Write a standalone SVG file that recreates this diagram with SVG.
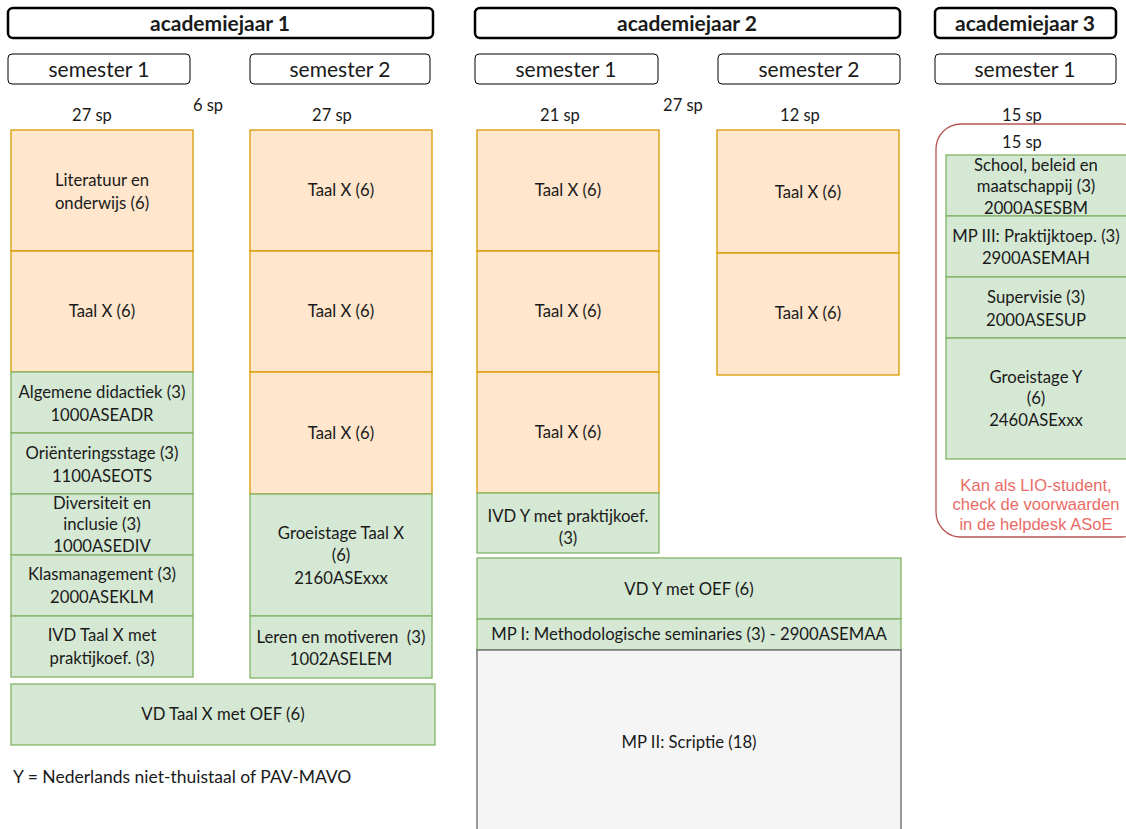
<svg xmlns="http://www.w3.org/2000/svg" width="1126" height="829" viewBox="0 0 1126 829">
<style>
text{font-family:Lato,"Open Sans","Liberation Sans",sans-serif;fill:#1a1a1a;text-anchor:middle}
.t{font-size:16.7px}
.h{font-size:21px;font-weight:bold}
.s{font-size:21px}
.sp{font-size:16.5px}
.yr{fill:#fff;stroke:#000;stroke-width:2.5}
.sem{fill:#fff;stroke:#000;stroke-width:1}
.o{fill:#ffe6cc;stroke:#d79b00;stroke-width:1.3}
.g{fill:#d5e8d4;stroke:#82b366;stroke-width:1.3}
.gr{fill:#f5f5f5;stroke:#666;stroke-width:1.3}
.red{font-family:"Liberation Sans",Arial,sans-serif;font-size:16.6px;fill:#ea6b66}
</style>
<rect width="1126" height="829" fill="#fff"/>
<g id="headers">
<g id="jaar1"><rect class="yr" x="8" y="8" width="425" height="30" rx="5"/><text class="h" x="220" y="31">academiejaar 1</text></g>
<g id="jaar2"><rect class="yr" x="475" y="8" width="425" height="30" rx="5"/><text class="h" x="687" y="31">academiejaar 2</text></g>
<g id="jaar3"><rect class="yr" x="935" y="8" width="181" height="30" rx="5"/><text class="h" x="1025" y="31">academiejaar 3</text></g>
<g id="j1s1"><rect class="sem" x="8" y="54" width="182" height="30" rx="4"/><text class="s" x="99" y="77">semester 1</text></g>
<g id="j1s2"><rect class="sem" x="250" y="54" width="180" height="30" rx="4"/><text class="s" x="340" y="77">semester 2</text></g>
<g id="j2s1"><rect class="sem" x="475" y="54" width="183" height="30" rx="4"/><text class="s" x="566" y="77">semester 1</text></g>
<g id="j2s2"><rect class="sem" x="718" y="54" width="182" height="30" rx="4"/><text class="s" x="809" y="77">semester 2</text></g>
<g id="j3s1"><rect class="sem" x="935" y="54" width="181" height="30" rx="4"/><text class="s" x="1025" y="77">semester 1</text></g>
</g>
<g id="sp">
<text class="sp" x="92" y="121">27 sp</text>
<text class="sp" x="208" y="111">6 sp</text>
<text class="sp" x="332" y="121">27 sp</text>
<text class="sp" x="560" y="121">21 sp</text>
<text class="sp" x="683" y="111">27 sp</text>
<text class="sp" x="800" y="121">12 sp</text>
<text class="sp" x="1022" y="121">15 sp</text>
</g>
<g id="connectors"></g>
<g id="j1s1-vakken">
<g id="lit"><rect class="o" x="11" y="130" width="182" height="121"/><text class="t" x="102" y="186">Literatuur en</text><text class="t" x="102" y="209">onderwijs (6)</text></g>
<g id="taal1"><rect class="o" x="11" y="251" width="182" height="121"/><text class="t" x="102" y="317">Taal X (6)</text></g>
<g id="algdid"><rect class="g" x="11" y="372" width="182" height="61"/><text class="t" x="102" y="398">Algemene didactiek (3)</text><text class="t" x="102" y="421">1000ASEADR</text></g>
<g id="orient"><rect class="g" x="11" y="433" width="182" height="61"/><text class="t" x="102" y="459">Oriënteringsstage (3)</text><text class="t" x="102" y="482">1100ASEOTS</text></g>
<g id="divers"><rect class="g" x="11" y="494" width="182" height="61"/><text class="t" x="102" y="509">Diversiteit en</text><text class="t" x="102" y="530">inclusie (3)</text><text class="t" x="102" y="552">1000ASEDIV</text></g>
<g id="klas"><rect class="g" x="11" y="555" width="182" height="61"/><text class="t" x="102" y="580">Klasmanagement (3)</text><text class="t" x="102" y="603">2000ASEKLM</text></g>
<g id="ivd1"><rect class="g" x="11" y="616" width="182" height="61"/><text class="t" x="102" y="641">IVD Taal X met</text><text class="t" x="102" y="664">praktijkoef. (3)</text></g>
<g id="vd1"><rect class="g" x="11" y="684" width="424" height="61"/><text class="t" x="223" y="720">VD Taal X met OEF (6)</text></g>
</g>
<g id="j1s2-vakken">
<g id="taal2a"><rect class="o" x="250" y="130" width="182" height="121"/><text class="t" x="341" y="196">Taal X (6)</text></g>
<g id="taal2b"><rect class="o" x="250" y="251" width="182" height="121"/><text class="t" x="341" y="317">Taal X (6)</text></g>
<g id="taal2c"><rect class="o" x="250" y="372" width="182" height="122"/><text class="t" x="341" y="439">Taal X (6)</text></g>
<g id="groei1"><rect class="g" x="250" y="494" width="182" height="122"/><text class="t" x="341" y="539">Groeistage Taal X</text><text class="t" x="341" y="561">(6)</text><text class="t" x="341" y="584">2160ASExxx</text></g>
<g id="leren"><rect class="g" x="250" y="616" width="182" height="62"/><text class="t" x="341" y="643" xml:space="preserve">Leren en motiveren  (3)</text><text class="t" x="341" y="665">1002ASELEM</text></g>
</g>
<g id="j2s1-vakken">
<g id="taal3a"><rect class="o" x="477" y="130" width="182" height="121"/><text class="t" x="568" y="196">Taal X (6)</text></g>
<g id="taal3b"><rect class="o" x="477" y="251" width="182" height="121"/><text class="t" x="568" y="317">Taal X (6)</text></g>
<g id="taal3c"><rect class="o" x="477" y="372" width="182" height="121"/><text class="t" x="568" y="438">Taal X (6)</text></g>
<g id="ivd2"><rect class="g" x="477" y="493" width="182" height="60"/><text class="t" x="568" y="522">IVD Y met praktijkoef.</text><text class="t" x="568" y="544">(3)</text></g>
<g id="vd2"><rect class="g" x="477" y="558" width="424" height="61"/><text class="t" x="689" y="595">VD Y met OEF (6)</text></g>
<g id="mp1"><rect class="g" x="477" y="619" width="424" height="31"/><text class="t" x="689" y="640">MP I: Methodologische seminaries (3) - 2900ASEMAA</text></g>
<g id="mp2"><rect class="gr" x="477" y="650" width="424" height="190"/><text class="t" x="689" y="748">MP II: Scriptie (18)</text></g>
</g>
<g id="j2s2-vakken">
<g id="taal4a"><rect class="o" x="717" y="130" width="182" height="123"/><text class="t" x="808" y="198">Taal X (6)</text></g>
<g id="taal4b"><rect class="o" x="717" y="253" width="182" height="122"/><text class="t" x="808" y="319">Taal X (6)</text></g>
</g>
<g id="j3s1-vakken">
<rect x="936" y="124" width="210" height="413" rx="25" fill="none" stroke="#b85450" stroke-width="1.3"/>
<text class="sp" x="1022" y="148">15 sp</text>
<g id="sbm"><rect class="g" x="946" y="155" width="200" height="61"/><text class="t" x="1036" y="171">School, beleid en</text><text class="t" x="1036" y="192">maatschappij (3)</text><text class="t" x="1036" y="214">2000ASESBM</text></g>
<g id="mp3"><rect class="g" x="946" y="216" width="200" height="61"/><text class="t" x="1036" y="242">MP III: Praktijktoep. (3)</text><text class="t" x="1036" y="264">2900ASEMAH</text></g>
<g id="sup"><rect class="g" x="946" y="277" width="200" height="61"/><text class="t" x="1036" y="303">Supervisie (3)</text><text class="t" x="1036" y="326">2000ASESUP</text></g>
<g id="groei2"><rect class="g" x="946" y="338" width="200" height="121"/><text class="t" x="1036" y="383">Groeistage Y</text><text class="t" x="1036" y="404">(6)</text><text class="t" x="1036" y="426">2460ASExxx</text></g>
<g id="lio"><text class="red" x="1036" y="491">Kan als LIO-student,</text><text class="red" x="1036" y="510">check de voorwaarden</text><text class="red" x="1036" y="530">in de helpdesk ASoE</text></g>
</g>
<g id="legenda"><text class="t" x="13" y="783" style="text-anchor:start;font-size:17.5px">Y = Nederlands niet-thuistaal of PAV-MAVO</text></g>
</svg>
